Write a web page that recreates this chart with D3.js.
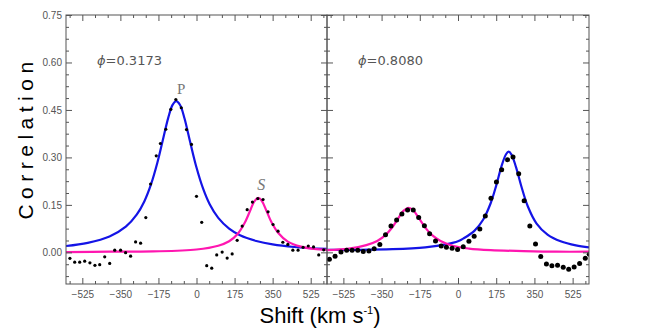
<!DOCTYPE html>
<html>
<head>
<meta charset="utf-8">
<script src="https://cdn.jsdelivr.net/npm/d3@7"></script>
<style>
  body { margin: 0; background: #fff; }
  svg { display: block; }
</style>
</head>
<body>
<svg id="chart"></svg>
<script>
// tick values
const xMajor = [-525, -350, -175, 0, 175, 350, 525];
const xMinor = d3.range(-10, 11).map(i => i * 175 / 3).filter(v => !xMajor.includes(Math.round(v)));
const yMajor = [0, 0.15, 0.30, 0.45, 0.60, 0.75];
const yMinor = d3.range(-2, 21).map(i => i * 0.0375).filter(v => Math.abs(v / 0.15 - Math.round(v / 0.15)) > 0.01);

// phase labels
const phases = ["0.3173", "0.8080"];

// panel 1 (phi = 0.3173) observed CCF points
const obs1X = [-582, -560, -537, -514, -490, -467, -445, -422, -399, -376, -349, -326, -303, -280, -257, -233, -211, -185, -166, -141, -118, -95, -70, -46, -23, 0, 24, 47, 70, 93, 118, 141, 164, 187, 210, 233, 257, 282, 306, 329, 352, 375, 397, 420, 443, 467, 490, 514, 538, 562, 585];
const obs1Y = [-0.019, -0.031, -0.031, -0.028, -0.033, -0.041, -0.039, -0.014, -0.035, 0.007, 0.007, -0.001, -0.012, 0.033, 0.029, 0.110, 0.216, 0.305, 0.344, 0.389, 0.452, 0.483, 0.457, 0.388, 0.341, 0.177, 0.095, -0.042, -0.050, -0.008, 0.001, -0.018, -0.005, 0.038, 0.083, 0.135, 0.159, 0.170, 0.167, 0.128, 0.088, 0.067, 0.032, 0.025, 0.007, 0.007, 0.016, 0.020, 0.017, -0.008, 0.008];

// panel 1 fitted primary (blue) and secondary (pink)
const fitP1X = [-600, -500, -400, -325, -275, -240, -210, -180, -155, -130, -110, -93, -75, -55, -30, 0, 30, 60, 100, 150, 200, 275, 350, 450, 600];
const fitP1Y = [0.020, 0.030, 0.050, 0.081, 0.119, 0.161, 0.213, 0.283, 0.354, 0.425, 0.466, 0.478, 0.465, 0.423, 0.351, 0.268, 0.202, 0.153, 0.109, 0.075, 0.054, 0.036, 0.025, 0.017, 0.011];
const fitS1X = [-600, -400, -200, 0, 100, 150, 190, 220, 245, 265, 284, 300, 320, 345, 375, 420, 480, 540, 600];
const fitS1Y = [0.001, 0.002, 0.003, 0.009, 0.021, 0.035, 0.059, 0.091, 0.129, 0.160, 0.172, 0.163, 0.134, 0.095, 0.062, 0.034, 0.018, 0.011, 0.008];

// panel 2 (phi = 0.8080) observed CCF points
const obs2X = [-589, -563, -536, -510, -485, -459, -434, -408, -384, -358, -332, -307, -281, -257, -231, -205, -180, -154, -130, -103, -77, -53, -27, -2, 24, 50, 74, 100, 125, 151, 176, 200, 227, 252, 278, 303, 329, 355, 379, 405, 430, 456, 482, 507, 532, 557, 583, 601];
const obs2Y = [-0.022, -0.012, 0.001, 0.007, 0.007, 0.007, 0.003, 0.004, 0.011, 0.025, 0.056, 0.083, 0.102, 0.121, 0.134, 0.134, 0.110, 0.084, 0.059, 0.036, 0.020, 0.016, 0.013, 0.009, 0.018, 0.035, 0.051, 0.074, 0.115, 0.171, 0.222, 0.261, 0.293, 0.301, 0.248, 0.163, 0.083, 0.026, -0.013, -0.037, -0.042, -0.041, -0.047, -0.053, -0.046, -0.035, -0.019, -0.006];

// panel 2 fitted primary (blue) and secondary (pink)
const fitP2X = [-600, -450, -300, -150, -50, 0, 25, 75, 115, 150, 175, 200, 220, 232, 245, 265, 290, 320, 360, 410, 470, 540, 600];
const fitP2Y = [0.008, 0.008, 0.010, 0.016, 0.026, 0.035, 0.044, 0.068, 0.103, 0.156, 0.211, 0.274, 0.310, 0.318, 0.309, 0.271, 0.209, 0.145, 0.091, 0.056, 0.035, 0.022, 0.016];
const fitS2X = [-600, -500, -420, -370, -330, -300, -275, -250, -226, -205, -180, -150, -120, -80, -20, 50, 150, 300, 450, 600];
const fitS2Y = [0.007, 0.012, 0.023, 0.036, 0.056, 0.080, 0.106, 0.131, 0.141, 0.133, 0.109, 0.078, 0.055, 0.036, 0.020, 0.012, 0.007, 0.004, 0.002, 0.002];

const W = 654, H = 334;
const yTop = 15, yBottom = 284;
const panels = [
  { x0: 66, x1: 327, obsX: obs1X, obsY: obs1Y, pX: fitP1X, pY: fitP1Y, sX: fitS1X, sY: fitS1Y, r: 1.6, phase: phases[0] },
  { x0: 327, x1: 589, obsX: obs2X, obsY: obs2Y, pX: fitP2X, pY: fitP2Y, sX: fitS2X, sY: fitS2Y, r: 2.5, phase: phases[1] }
];

const svg = d3.select("#chart").attr("width", W).attr("height", H);

const y = d3.scaleLinear().domain([-0.1, 0.75]).range([yBottom, yTop]);

const axisColor = "#555";
const labelFont = "Liberation Sans, Arial, sans-serif";

panels.forEach((p, i) => {
  const x = d3.scaleLinear().domain([-600, 600]).range([p.x0, p.x1]);
  const g = svg.append("g");

  // clip for curves
  const clipId = "clip" + i;
  svg.append("clipPath").attr("id", clipId)
     .append("rect").attr("x", p.x0).attr("y", yTop).attr("width", p.x1 - p.x0).attr("height", yBottom - yTop);

  const plot = g.append("g").attr("clip-path", `url(#${clipId})`);

  const line = d3.line().x(d => x(d[0])).y(d => y(d[1])).curve(d3.curveCatmullRom.alpha(0.5));

  // primary fit
  plot.append("path")
      .datum(d3.zip(p.pX, p.pY))
      .attr("d", line)
      .attr("fill", "none")
      .attr("stroke", "#1414e6")
      .attr("stroke-width", 2.2);

  // secondary fit
  plot.append("path")
      .datum(d3.zip(p.sX, p.sY))
      .attr("d", line)
      .attr("fill", "none")
      .attr("stroke", "#ff16b0")
      .attr("stroke-width", 2.2);

  // observed points
  plot.selectAll("circle")
      .data(d3.zip(p.obsX, p.obsY))
      .enter().append("circle")
              .attr("cx", d => x(d[0]))
              .attr("cy", d => y(d[1]))
              .attr("r", p.r)
              .attr("fill", "#000");

  // frame
  g.append("rect")
   .attr("x", p.x0).attr("y", yTop)
   .attr("width", p.x1 - p.x0).attr("height", yBottom - yTop)
   .attr("fill", "none").attr("stroke", axisColor).attr("stroke-width", 1);

  // ticks: major and minor on all four sides, pointing inward
  const addAxis = (axis, tx, ty, labels) => {
    const a = g.append("g").attr("transform", `translate(${tx},${ty})`).call(axis);
    a.select(".domain").remove();
    a.selectAll(".tick line").attr("stroke", axisColor);
    a.selectAll("text").attr("fill", "#555").style("font-family", labelFont).style("font-size", "10px");
    if (!labels) a.selectAll("text").remove();
    return a;
  };

  addAxis(d3.axisBottom(x).tickValues(xMajor).tickSize(-6).tickPadding(7).tickFormat(d3.format("d")), 0, yBottom, true);
  addAxis(d3.axisBottom(x).tickValues(xMinor).tickSize(-3).tickFormat(""), 0, yBottom, false);
  addAxis(d3.axisTop(x).tickValues(xMajor).tickSize(-6), 0, yTop, false);
  addAxis(d3.axisTop(x).tickValues(xMinor).tickSize(-3), 0, yTop, false);

  addAxis(d3.axisLeft(y).tickValues(yMajor).tickSize(-6).tickPadding(4).tickFormat(d3.format(".2f")), p.x0, 0, i === 0);
  addAxis(d3.axisLeft(y).tickValues(yMinor).tickSize(-3), p.x0, 0, false);
  addAxis(d3.axisRight(y).tickValues(yMajor).tickSize(-6), p.x1, 0, false);
  addAxis(d3.axisRight(y).tickValues(yMinor).tickSize(-3), p.x1, 0, false);

  // phase annotation
  const t = g.append("text")
   .attr("x", p.x0 + 31).attr("y", 65)
   .attr("fill", "#555")
   .style("font-family", "DejaVu Sans, sans-serif")
   .style("font-size", "13px");
  t.append("tspan").attr("font-style", "italic").text("\u03d5");
  t.append("tspan").text("=" + p.phase);
});

// component labels
const xL = d3.scaleLinear().domain([-600, 600]).range([66, 327]);
svg.append("text")
   .attr("x", xL(-70)).attr("y", 94)
   .attr("text-anchor", "middle")
   .attr("fill", "#777")
   .style("font-family", "Liberation Serif, Times New Roman, serif")
   .style("font-size", "15px")
   .text("P");
svg.append("text")
   .attr("x", xL(298)).attr("y", 190)
   .attr("text-anchor", "middle")
   .attr("fill", "#777")
   .style("font-family", "Liberation Serif, Times New Roman, serif")
   .style("font-size", "16px")
   .style("font-style", "italic")
   .text("S");

// axis titles
svg.append("text")
   .attr("transform", "translate(33,138) rotate(-90)")
   .attr("text-anchor", "middle")
   .attr("fill", "#000")
   .style("font-family", labelFont)
   .style("font-size", "21px")
   .style("letter-spacing", "5.5px")
   .text("Correlation");

const xt = svg.append("text")
   .attr("x", 320).attr("y", 323)
   .attr("text-anchor", "middle")
   .attr("fill", "#000")
   .style("font-family", labelFont)
   .style("font-size", "22px");
xt.append("tspan").text("Shift (km s");
xt.append("tspan").attr("dy", -9).style("font-size", "11px").text("-1");
xt.append("tspan").attr("dy", 9).text(")");
</script>
</body>
</html>
